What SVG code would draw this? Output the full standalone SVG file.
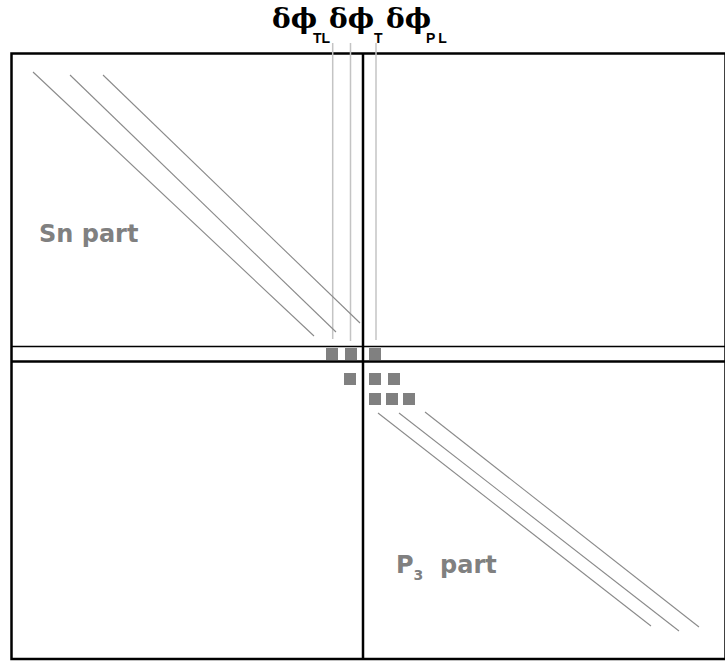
<svg xmlns="http://www.w3.org/2000/svg" width="725" height="663" viewBox="0 0 725 663">
<style>
.frame{fill:none;stroke:#000;stroke-width:2.5}
.thin{stroke:#000;stroke-width:1.6}
.diag{stroke:#8a8a8a;stroke-width:1.1;fill:none}
.vg{stroke:#c4c4c4;stroke-width:1.5}
.sq{fill:#808080}
.lbl{font-family:"DejaVu Sans",sans-serif;font-weight:bold;font-size:24px;fill:#808080}
.gr{font-family:"DejaVu Serif",serif;font-weight:bold;font-size:28px;fill:#000}
.sub{font-family:"Liberation Sans",sans-serif;font-weight:bold;font-size:14px}
</style>
<rect width="725" height="663" fill="#fff"/>
<g id="frame">
<rect class="frame" x="11.5" y="53.5" width="714" height="605.5"/>
<line class="thin" x1="11" y1="346.5" x2="725" y2="346.5"/>
<line class="frame" x1="11" y1="361.5" x2="725" y2="361.5"/>
<line class="frame" x1="363" y1="53" x2="363" y2="659"/>
</g>
<g id="vlines">
<line class="vg" x1="332.7" y1="43" x2="332.7" y2="339"/>
<line class="vg" x1="350.5" y1="43" x2="350.5" y2="341"/>
<line class="vg" x1="376" y1="43" x2="376" y2="340"/>
</g>
<g id="diagonals">
<line class="diag" x1="33" y1="72" x2="314" y2="336"/>
<line class="diag" x1="70" y1="75" x2="336" y2="332"/>
<line class="diag" x1="103" y1="75" x2="360" y2="323"/>
<line class="diag" x1="378" y1="413" x2="651" y2="626"/>
<line class="diag" x1="399" y1="413" x2="679" y2="631"/>
<line class="diag" x1="425" y1="412" x2="699" y2="627"/>
</g>
<g id="squares">
<rect class="sq" x="326" y="348" width="12" height="12"/>
<rect class="sq" x="345" y="348" width="12" height="12"/>
<rect class="sq" x="369" y="348" width="12" height="12"/>
<rect class="sq" x="344" y="373" width="12" height="12"/>
<rect class="sq" x="369" y="373" width="12" height="12"/>
<rect class="sq" x="388" y="373" width="12" height="12"/>
<rect class="sq" x="369" y="393" width="12" height="12"/>
<rect class="sq" x="386" y="393" width="12" height="12"/>
<rect class="sq" x="403" y="393" width="12" height="12"/>
</g>
<g id="labels">
<text class="lbl" x="39" y="242">Sn part</text>
<text class="lbl" x="396" y="573">P<tspan font-size="14" dy="7">3</tspan><tspan dy="-7" x="440">part</tspan></text>
</g>
<g id="header">
<text class="gr" x="272" y="28">δϕ<tspan class="sub" x="313" dy="15">TL</tspan><tspan x="329" dy="-15">δϕ</tspan><tspan class="sub" x="374" dy="15" font-family="Liberation Serif">T</tspan><tspan x="386" dy="-15">δϕ</tspan><tspan class="sub" x="426" dy="15" letter-spacing="3">PL</tspan></text>
</g>
</svg>
